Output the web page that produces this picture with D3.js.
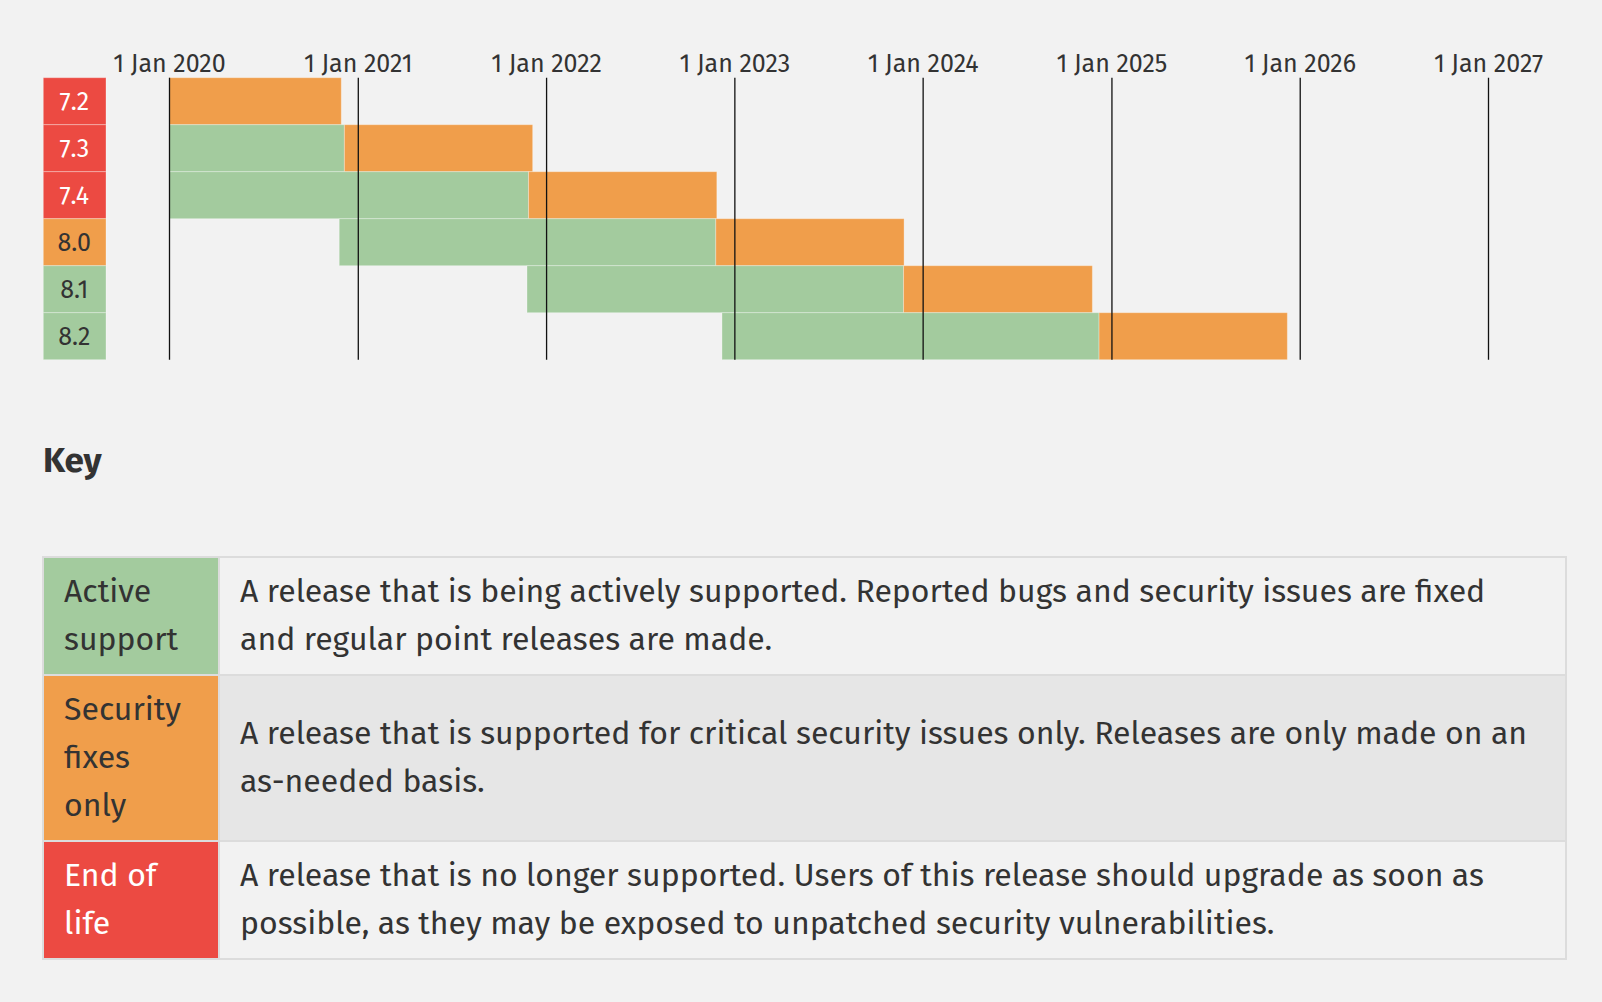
<!DOCTYPE html>
<html>
<head>
<meta charset="utf-8">
<script src="https://cdn.jsdelivr.net/npm/d3@7"></script>
<style>
  html, body { margin: 0; padding: 0; background: #f2f2f2; }
  svg { display: block; }
  text { font-family: "Fira Sans", "Open Sans", "Noto Sans", sans-serif; }
</style>
</head>
<body>
<script>
// ---- Data ----
const versions = ["7.2", "7.3", "7.4", "8.0", "8.1", "8.2"];
const versionStatus = ["eol", "eol", "eol", "security", "stable", "stable"];
const releaseDates = ["2017-11-30", "2018-12-06", "2019-11-28", "2020-11-26", "2021-11-25", "2022-12-08"];
const activeEndDates = ["2019-11-30", "2020-12-06", "2021-11-28", "2022-11-26", "2023-11-25", "2024-12-08"];
const securityEndDates = ["2020-11-30", "2021-12-06", "2022-11-28", "2023-11-26", "2024-11-25", "2025-12-08"];
const axisStart = "2020-01-01";
const axisEnd = "2027-01-01";

const keyStatuses = ["stable", "security", "eol"];
const keyLabels = [["Active", "support"], ["Security", "fixes", "only"], ["End of", "life"]];
const keyDescriptions = [
  ["A release that is being actively supported. Reported bugs and security issues are fixed",
   "and regular point releases are made."],
  ["A release that is supported for critical security issues only. Releases are only made on an",
   "as-needed basis."],
  ["A release that is no longer supported. Users of this release should upgrade as soon as",
   "possible, as they may be exposed to unpatched security vulnerabilities."]
];
const keyTitle = "Key";

// ---- Styles ----
const fills = { stable: "#a3cb9e", security: "#f09e4b", eol: "#ec4a42" };
const labelText = { stable: "#333", security: "#333", eol: "#fff" };
const W = 1602, H = 1002;

const parse = d3.timeParse("%Y-%m-%d");
const svg = d3.select("body").append("svg").attr("width", W).attr("height", H);
svg.append("rect").attr("width", W).attr("height", H).attr("fill", "#f2f2f2");

const x = d3.scaleTime().domain([parse(axisStart), parse(axisEnd)]).range([169, 1488]);
const y = d3.scaleBand().domain(versions).range([77.7, 359.7]).padding(0);
const d0 = x.domain()[0];

const rows = versions.map((v, i) => ({
  v, status: versionStatus[i],
  rel: parse(releaseDates[i]), act: parse(activeEndDates[i]), sec: parse(securityEndDates[i])
}));

// Bars
const bars = [];
rows.forEach(r => {
  if (r.act > d0) bars.push({ v: r.v, s: r.rel < d0 ? d0 : r.rel, e: r.act, status: "stable" });
  if (r.sec > d0) bars.push({ v: r.v, s: r.act < d0 ? d0 : r.act, e: r.sec, status: "security" });
});
svg.append("g").selectAll("rect").data(bars).join("rect")
  .attr("x", d => x(d.s)).attr("y", d => y(d.v))
  .attr("width", d => x(d.e) - x(d.s)).attr("height", y.bandwidth())
  .attr("fill", d => fills[d.status])
  .attr("stroke", "rgba(255,255,255,0.3)").attr("stroke-width", 1);

// Version labels
const lab = svg.append("g").selectAll("g").data(rows).join("g")
  .attr("transform", d => `translate(43.3,${y(d.v)})`);
lab.append("rect").attr("width", 62.7).attr("height", y.bandwidth())
  .attr("fill", d => fills[d.status])
  .attr("stroke", "rgba(255,255,255,0.3)").attr("stroke-width", 1);
lab.append("text").attr("x", 31).attr("y", y.bandwidth() / 2).attr("dy", "0.36em")
  .attr("text-anchor", "middle").attr("font-size", 25)
  .attr("fill", d => labelText[d.status]).text(d => d.v);

// Axis with year lines
const axis = d3.axisTop(x).ticks(d3.timeYear.every(1))
  .tickFormat(d3.timeFormat("%-d %b %Y"))
  .tickSizeInner(-(y.range()[1] - y.range()[0])).tickSizeOuter(0).tickPadding(6);
const ax = svg.append("g").attr("transform", `translate(0,${y.range()[0]})`).call(axis);
ax.select(".domain").remove();
ax.selectAll(".tick line").attr("stroke", "#111").attr("stroke-width", 1.3);
ax.selectAll(".tick text").attr("font-size", 25).attr("fill", "#333")
  .attr("font-family", '"Fira Sans", "Open Sans", "Noto Sans", sans-serif');

// Key title
svg.append("text").attr("x", 43).attr("y", 472.3).attr("font-size", 35)
  .attr("font-weight", "bold").attr("fill", "#333").text(keyTitle);

// Key table
const tLeft = 42, tRight = 1567, tTop = 556, border = 2, col1W = 174;
const lineH = 48, padV = 10, baseOff = 34;
let cy = tTop + border;
const keyRows = keyStatuses.map((s, i) => {
  const n = Math.max(keyLabels[i].length, keyDescriptions[i].length);
  const h = n * lineH + 2 * padV;
  const r = { s, label: keyLabels[i], desc: keyDescriptions[i], top: cy, h, i };
  cy += h + border;
  return r;
});
svg.append("rect").attr("x", tLeft).attr("y", tTop)
  .attr("width", tRight - tLeft).attr("height", cy - tTop).attr("fill", "#dcdcdc");
const kr = svg.append("g").selectAll("g").data(keyRows).join("g");
kr.append("rect").attr("x", tLeft + border).attr("y", d => d.top)
  .attr("width", col1W).attr("height", d => d.h).attr("fill", d => fills[d.s]);
kr.append("rect").attr("x", tLeft + border + col1W + border).attr("y", d => d.top)
  .attr("width", tRight - border - (tLeft + border + col1W + border)).attr("height", d => d.h)
  .attr("fill", d => d.i % 2 === 1 ? "#e6e6e6" : "#f2f2f2");
kr.each(function(d) {
  const g = d3.select(this);
  const blockL = d.label.length * lineH, blockD = d.desc.length * lineH;
  const offL = (d.h - blockL) / 2, offD = (d.h - blockD) / 2;
  g.selectAll("text.lbl").data(d.label).join("text").attr("class", "lbl")
    .attr("x", tLeft + border + 20).attr("y", (t, j) => d.top + offL + baseOff + j * lineH)
    .attr("font-size", 32).attr("fill", labelText[d.s]).text(t => t);
  g.selectAll("text.desc").data(d.desc).join("text").attr("class", "desc")
    .attr("x", tLeft + border + col1W + border + 20).attr("y", (t, j) => d.top + offD + baseOff + j * lineH)
    .attr("font-size", 32).attr("fill", "#333").text(t => t);
});
</script>
</body>
</html>
